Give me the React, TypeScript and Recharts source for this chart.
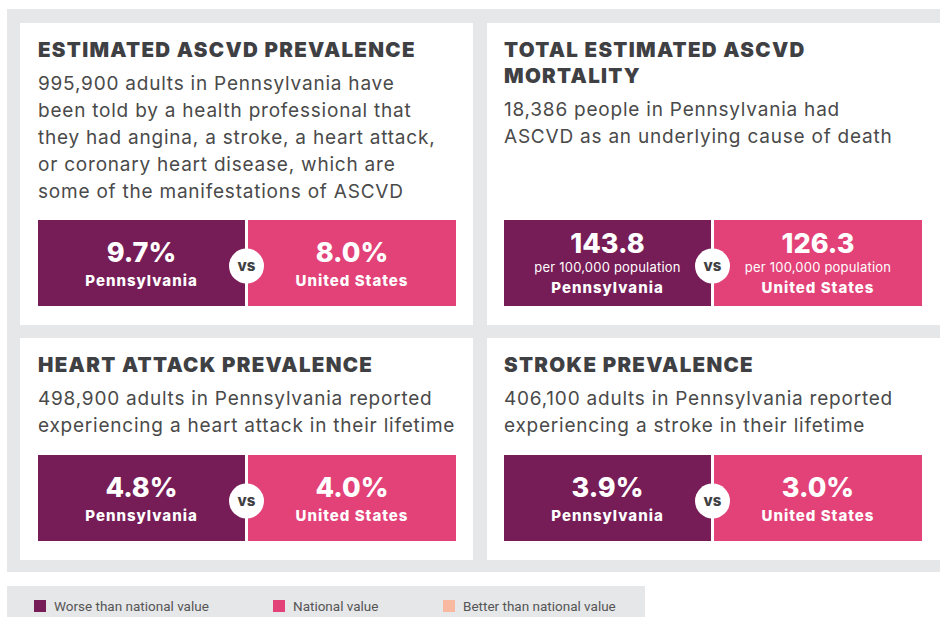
import { BarChart, Bar, XAxis, YAxis } from 'recharts'

const titles = [
  ['ESTIMATED ASCVD PREVALENCE'],
  ['TOTAL ESTIMATED ASCVD', 'MORTALITY'],
  ['HEART ATTACK PREVALENCE'],
  ['STROKE PREVALENCE'],
]
const descriptions = [
  [
    '995,900 adults in Pennsylvania have',
    'been told by a health professional that',
    'they had angina, a stroke, a heart attack,',
    'or coronary heart disease, which are',
    'some of the manifestations of ASCVD',
  ],
  ['18,386 people in Pennsylvania had', 'ASCVD as an underlying cause of death'],
  ['498,900 adults in Pennsylvania reported', 'experiencing a heart attack in their lifetime'],
  ['406,100 adults in Pennsylvania reported', 'experiencing a stroke in their lifetime'],
]
const regions = ['Pennsylvania', 'United States']
const stateValues = [9.7, 143.8, 4.8, 3.9]
const nationalValues = [8.0, 126.3, 4.0, 3.0]
const units = ['%', '', '%', '%']
const subLabels = ['', 'per 100,000 population', '', '']
const legendLabels = ['Worse than national value', 'National value', 'Better than national value']

const WORSE = '#761c56'
const NATIONAL = '#e24278'
const BETTER = '#f8b9a0'
const GRAY = '#e6e7e9'
const INK = '#3f4043'
const FONT = 'Inter, "Noto Sans", sans-serif'

const BOX_W = 418
const BOX_H = 86

function makeBoxShape(unit: string, sub: string) {
  return function BoxShape(props: any) {
    const { x, width, index, value, payload } = props
    const bg = props.background ?? { y: 0, height: BOX_H }
    const left = index === 0 ? x : x + 1
    const w = width - (index === 0 ? 2 : 1)
    const cx = left + w / 2
    const y = bg.y
    const h = bg.height
    const fill = index === 0 ? WORSE : NATIONAL
    const valueText = `${Number(value).toFixed(1)}${unit}`
    const label = { fill: '#fff', fontFamily: FONT, fontWeight: 800, fontSize: 15, letterSpacing: 1 }
    const big = { fill: '#fff', fontFamily: FONT, fontWeight: 800, fontSize: 27 }
    return (
      <g>
        <rect x={left} y={y} width={w} height={h} fill={fill} />
        {sub ? (
          <>
            <text x={cx} y={y + 33} textAnchor="middle" {...big}>
              {valueText}
            </text>
            <text x={cx} y={y + 52} textAnchor="middle" fill="#fff" fontFamily={FONT} fontWeight={400} fontSize={13} letterSpacing={0.2}>
              {sub}
            </text>
            <text x={cx} y={y + 73} textAnchor="middle" {...label}>
              {payload.region}
            </text>
          </>
        ) : (
          <>
            <text x={cx} y={y + 42} textAnchor="middle" {...big}>
              {valueText}
            </text>
            <text x={cx} y={y + 66} textAnchor="middle" {...label}>
              {payload.region}
            </text>
          </>
        )}
        {index === 1 && (
          <g>
            <circle cx={x - 0.5} cy={y + h / 2 + 3} r={17.5} fill="#fff" />
            <text x={x - 0.5} y={y + h / 2 + 8} textAnchor="middle" fill={INK} fontFamily={FONT} fontWeight={800} fontSize={15}>
              vs
            </text>
          </g>
        )}
      </g>
    )
  }
}

function Card({ i, left, top, height, inset }: { i: number; left: number; top: number; height: number; inset: number }) {
  const data = regions.map((region, k) => ({ region, value: k === 0 ? stateValues[i] : nationalValues[i] }))
  return (
    <div style={{ position: 'absolute', left, top, width: 453, height, background: '#fff' }}>
      <div style={{ position: 'absolute', left: inset, top: 14, width: 430 }}>
        {titles[i].map((t) => (
          <div
            key={t}
            style={{ fontFamily: FONT, fontWeight: 900, fontSize: 20.5, lineHeight: '26px', letterSpacing: 1.3, color: INK, whiteSpace: 'nowrap' }}
          >
            {t}
          </div>
        ))}
        <div style={{ marginTop: 7 }}>
          {descriptions[i].map((d) => (
            <div
              key={d}
              style={{ fontFamily: FONT, fontWeight: 400, fontSize: 19, lineHeight: '27px', letterSpacing: 0.78, color: '#4a4a4a', whiteSpace: 'nowrap' }}
            >
              {d}
            </div>
          ))}
        </div>
      </div>
      <div style={{ position: 'absolute', left: inset, top: height - 105 }}>
        <BarChart width={BOX_W} height={BOX_H} data={data} margin={{ top: 0, right: 0, bottom: 0, left: 0 }} barCategoryGap={0}>
          <XAxis dataKey="region" hide />
          <YAxis hide domain={[0, 'dataMax']} />
          <Bar dataKey="value" isAnimationActive={false} shape={makeBoxShape(units[i], subLabels[i])} />
        </BarChart>
      </div>
    </div>
  )
}

export default function App() {
  const legendColors = [WORSE, NATIONAL, BETTER]
  const legendX = [34, 273, 443]
  return (
    <div style={{ position: 'absolute', left: 0, top: 0, width: 940, height: 617, overflow: 'hidden', background: '#fff' }}>
      <div style={{ position: 'absolute', left: 7, top: 9, width: 933, height: 563, background: GRAY }} />
      <Card i={0} left={20} top={23} height={302} inset={18} />
      <Card i={1} left={487} top={23} height={302} inset={17} />
      <Card i={2} left={20} top={338} height={222} inset={18} />
      <Card i={3} left={487} top={338} height={222} inset={17} />
      <div style={{ position: 'absolute', left: 7, top: 586, width: 638, height: 31, background: GRAY }} />
      {legendLabels.map((l, k) => (
        <div key={l} style={{ position: 'absolute', left: legendX[k], top: 598, display: 'flex', alignItems: 'center' }}>
          <div style={{ width: 12, height: 12, background: legendColors[k], marginRight: 8 }} />
          <span style={{ fontFamily: 'Roboto, sans-serif', fontSize: 13.5, color: '#555', lineHeight: '16px' }}>{l}</span>
        </div>
      ))}
    </div>
  )
}
